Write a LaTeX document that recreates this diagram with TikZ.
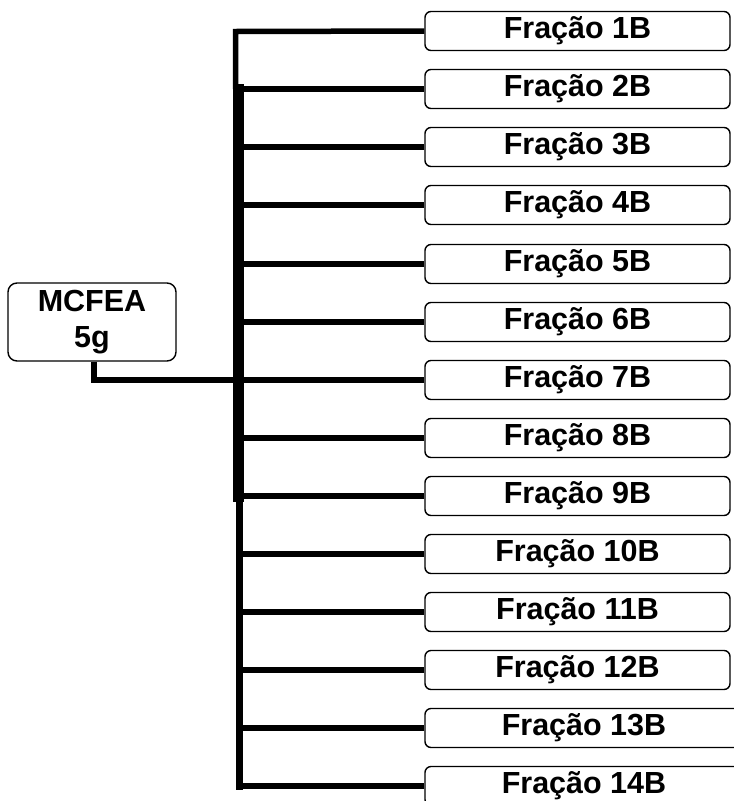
\documentclass[tikz,border=0pt]{standalone}
\usepackage{fontspec}
\setmainfont{Liberation Sans}
\usepackage{tikz}
\usetikzlibrary{calc}

\begin{document}
\begin{tikzpicture}[
  x=1pt, y=-1pt,
  every node/.style={font=\fontsize{30.5}{36}\selectfont\bfseries},
  fracbox/.style={draw, rounded corners=6pt, line width=1.4pt, minimum width=305pt,
                  minimum height=39pt, inner sep=0pt},
  rootbox/.style={draw, rounded corners=9pt, line width=1.4pt, minimum width=168pt,
                  minimum height=78pt, align=center, inner sep=0pt},
  branch/.style={line width=5.5pt, line join=miter},
  trunk/.style={line cap=rect},
]
\useasboundingbox (0,0) rectangle (734,801);
\clip (0,0) rectangle (734,801);

% ---- Source sample (left) ----
\node[rootbox] (root) at (92,322) {MCFEA\\5g};

% ---- Fractions (right column) ----
\node[fracbox] (f1)  at (577.5,31)  {Fração 1B};
\node[fracbox] (f2)  at (577.5,89)  {Fração 2B};
\node[fracbox] (f3)  at (577.5,147) {Fração 3B};
\node[fracbox] (f4)  at (577.5,205) {Fração 4B};
\node[fracbox] (f5)  at (577.5,264) {Fração 5B};
\node[fracbox] (f6)  at (577.5,322) {Fração 6B};
\node[fracbox] (f7)  at (577.5,380) {Fração 7B};
\node[fracbox] (f8)  at (577.5,438) {Fração 8B};
\node[fracbox] (f9)  at (577.5,496) {Fração 9B};
\node[fracbox] (f10) at (577.5,554) {Fração 10B};
\node[fracbox] (f11) at (577.5,612) {Fração 11B};
\node[fracbox] (f12) at (577.5,670) {Fração 12B};
\node[fracbox, minimum width=318pt] (f13) at (584,728) {Fração 13B};
\node[fracbox, minimum width=318pt] (f14) at (584,786) {Fração 14B};

% ---- Trunk ----
\coordinate (k1)  at (235.5,31.5);
\coordinate (k2)  at (235.5,89);
\coordinate (k2b) at (238.5,89);
\coordinate (k9)  at (238.5,496);
\coordinate (k9b) at (239.5,496);
\coordinate (k14) at (239.5,786);
\coordinate (rj)  at (238.5,380);

\draw[branch] (f1.west) -- (k1) -- (k2);
\draw[trunk, line width=11pt] (k2b) -- (k9);
\draw[trunk, line width=7pt] (k9b) -- (k14);

% ---- Branches ----
\draw[branch] (f2.west)  -- (f2.west -| k2b);
\draw[branch] (f3.west)  -- (f3.west -| k2b);
\draw[branch] (f4.west)  -- (f4.west -| k2b);
\draw[branch] (f5.west)  -- (f5.west -| k2b);
\draw[branch] (f6.west)  -- (f6.west -| k2b);
\draw[branch] (f7.west)  -- (f7.west -| k2b);
\draw[branch] (f8.west)  -- (f8.west -| k2b);
\draw[branch] (f9.west)  -- (f9.west -| k2b);
\draw[branch] (f10.west) -- (f10.west -| k9b);
\draw[branch] (f11.west) -- (f11.west -| k9b);
\draw[branch] (f12.west) -- (f12.west -| k9b);
\draw[branch] (f13.west) -- (f13.west -| k9b);
\draw[branch] (f14.west) -- (k14);

% ---- Source to trunk ----
\draw[branch, line width=6pt] ([xshift=2pt]root.south) |- (rj);

\end{tikzpicture}
\end{document}
